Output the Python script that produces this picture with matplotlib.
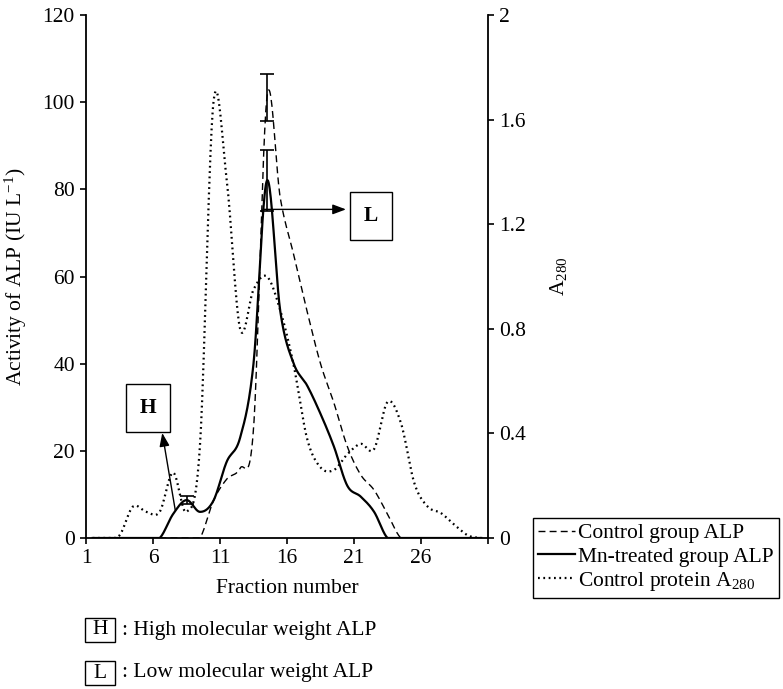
import numpy as np
import matplotlib
matplotlib.use("Agg")
from matplotlib import pyplot as plt
from matplotlib.patches import Rectangle

plt.rcParams["font.family"] = "Liberation Serif"
plt.rcParams["mathtext.fontset"] = "custom"
plt.rcParams["mathtext.rm"] = "Liberation Serif"
plt.rcParams["mathtext.it"] = "Liberation Serif:italic"
plt.rcParams["mathtext.bf"] = "Liberation Serif:bold"

# fraction positions (plotted at the middle of each fraction)
fraction = [1.5, 2.5, 3.5, 4.5, 5.5, 6.5, 7.5, 8.5, 9.5, 10.5,
            11.5, 12.5, 13.5, 14.5, 15.5, 16.5, 17.5, 18.5, 19.5, 20.5,
            21.5, 22.5, 23.5, 24.5, 25.5, 26.5, 27.5, 28.5, 29.5, 30.5]

# ALP activity (IU/L)
control_alp = [0, 0, 0, 0, 0, 0, 0, 0, 0, 8.5,
               13.5, 16, 25, 101, 78, 65, 52, 40, 31, 21,
               14.5, 11, 5.5, 0, 0, 0, 0, 0, 0, 0]
mn_alp = [0, 0, 0, 0, 0, 0, 5.5, 8.7, 6.0, 8.5,
          17.5, 23, 40, 82, 52, 40, 35, 28.5, 21, 12,
          9.5, 6, 0, 0, 0, 0, 0, 0, 0, 0]
# protein absorbance
protein_a280 = [0, 0, 0.01, 0.12, 0.10, 0.10, 0.25, 0.10, 0.35, 1.66,
                1.37, 0.80, 0.95, 1.00, 0.87, 0.66, 0.38, 0.27, 0.26, 0.32,
                0.36, 0.34, 0.52, 0.44, 0.21, 0.12, 0.095, 0.05, 0.01, 0.0]

# error bars (index into fraction)
mn_err_idx = [7, 13]
mn_err = [1.0, 7.0]
control_err_idx = [13]
control_err = [5.4]

xticks = [1, 6, 11, 16, 21, 26, 31]
xticklabels = ["1", "6", "11", "16", "21", "26", ""]
left_ticks = [0, 20, 40, 60, 80, 100, 120]
right_ticks = [0, 0.4, 0.8, 1.2, 1.6, 2]


def smooth(x, y, n=24):
    # catmull-rom, like the spreadsheet "smoothed line"
    x = np.asarray(x, float)
    y = np.asarray(y, float)
    px = np.concatenate([[2 * x[0] - x[1]], x, [2 * x[-1] - x[-2]]])
    py = np.concatenate([[y[0]], y, [y[-1]]])
    t = np.linspace(0, 1, n, endpoint=False)[:, None]
    out = []
    for p in (px, py):
        p0, p1, p2, p3 = p[:-3], p[1:-2], p[2:-1], p[3:]
        c = 0.5 * (2 * p1 + (-p0 + p2) * t + (2 * p0 - 5 * p1 + 4 * p2 - p3) * t ** 2
                   + (-p0 + 3 * p1 - 3 * p2 + p3) * t ** 3)
        c = c.T.ravel()
        out.append(np.append(c, p[-2]))
    return out[0], np.clip(out[1], 0, None)


W, H = 783, 689
fig = plt.figure(figsize=(W / 100, H / 100), dpi=100)
ax = fig.add_axes([86 / W, 1 - 538 / H, (488 - 86) / W, (538 - 15) / H])
ax2 = ax.twinx()

fs = 15.5
sx, sy = smooth(fraction, control_alp)
l1, = ax.plot(sx, sy, color="black", lw=1.0, linestyle=(0, (5, 3)),
              label="Control group ALP")
sx, sy = smooth(fraction, mn_alp)
l2, = ax.plot(sx, sy, color="black", lw=1.6, label="Mn-treated group ALP")
sx, sy = smooth(fraction, protein_a280)
l3, = ax2.plot(sx, sy, color="black", lw=1.6, linestyle=(0, (0.8, 1.6)),
               label="Control protein A$_{280}$")

fr = np.array(fraction)
ax.errorbar(fr[mn_err_idx], np.array(mn_alp)[mn_err_idx], yerr=mn_err,
            fmt="none", ecolor="black", elinewidth=1.2, capsize=5, capthick=1.2)
ax.errorbar(fr[control_err_idx], np.array(control_alp)[control_err_idx],
            yerr=control_err, fmt="none", ecolor="black", elinewidth=1.2,
            capsize=5, capthick=1.2)

ax.set_xlim(1, 31)
ax.set_ylim(0, 120)
ax2.set_ylim(0, 2)
ax.set_xticks(xticks)
ax.set_xticklabels(xticklabels)
ax.set_yticks(left_ticks)
ax2.set_yticks(right_ticks)
ax2.set_yticklabels(["%g" % v for v in right_ticks])

for a in (ax, ax2):
    a.spines["top"].set_visible(False)
    a.tick_params(labelsize=fs, width=1.2, length=4, direction="out", pad=4)
ax.spines["right"].set_visible(False)
ax2.spines["left"].set_visible(False)
ax2.spines["bottom"].set_visible(False)
for s in ("left", "bottom"):
    ax.spines[s].set_linewidth(1.3)
ax2.spines["right"].set_linewidth(1.3)

ax.set_xlabel("Fraction number", fontsize=fs, labelpad=8)
ax.set_ylabel("Activity of ALP (IU L$^{-1}$)", fontsize=fs, labelpad=10)
ax2.set_ylabel("A$_{280}$", fontsize=fs, labelpad=16)

# H and L markers
box = dict(boxstyle="square,pad=0.65", fc="white", ec="black", lw=1)
arrow = dict(arrowstyle="-|>,head_length=0.8,head_width=0.3", color="black",
             lw=1.0, shrinkA=0, shrinkB=0)
ax.annotate("", xy=(6.69, 24.1), xytext=(7.66, 6.4), arrowprops=arrow)
ax.text(5.64, 29.9, "H", fontsize=fs, fontweight="bold", ha="center",
        va="center", bbox=box)
ax.annotate("", xy=(20.4, 75.4), xytext=(14.2, 75.4), arrowprops=arrow)
ax.text(22.25, 73.8, "L", fontsize=fs, fontweight="bold", ha="center",
        va="center", bbox=box)

leg = fig.legend([l1, l2, l3], [l1.get_label(), l2.get_label(), l3.get_label()],
                 loc="upper left", bbox_to_anchor=(533 / W, 1 - 518 / H),
                 fontsize=fs, frameon=True, fancybox=False, edgecolor="black",
                 framealpha=1, borderpad=0.25, labelspacing=0.15,
                 handlelength=1.7, handletextpad=0.15, borderaxespad=0)
leg.get_frame().set_linewidth(1.0)

# key below the chart
for name, text, yc in [("H", ": High molecular weight ALP", 630),
                       ("L", ": Low molecular weight ALP", 673)]:
    fig.add_artist(Rectangle((85 / W, 1 - (yc + 12) / H), 30 / W, 24 / H,
                             transform=fig.transFigure, fill=False, lw=1))
    fig.text(100 / W, 1 - yc / H, name, fontsize=fs, ha="center", va="center")
    fig.text(122 / W, 1 - yc / H, text, fontsize=fs, ha="left", va="center")

fig.savefig("out.png", dpi=100)
